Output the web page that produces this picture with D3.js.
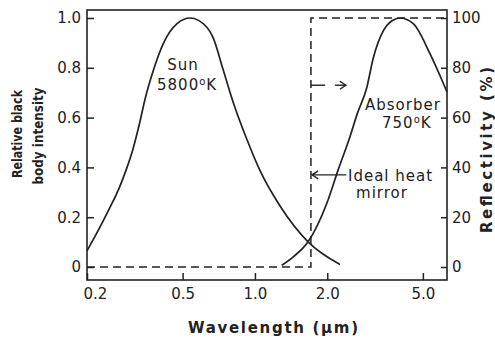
<!DOCTYPE html>
<html>
<head>
<meta charset="utf-8">
<title>Sun and absorber black body spectra</title>
<script src="https://d3js.org/d3.v7.min.js"></script>
<style>
body {margin:0; background:white;}
svg text {font-family:"DejaVu Sans", sans-serif; fill:#222;}
.tick line {stroke:#222; stroke-width:1.5;}
.tick text {font-size:15px;}
.title {font-weight:bold;}
.note {font-size:15px; letter-spacing:1px;}
</style>
</head>
<body>

<svg width="495" height="347"></svg>

<script>
// wavelength (um) and relative intensity
var sunWave = [0.2, 0.225, 0.248, 0.273, 0.291, 0.31, 0.33, 0.349, 0.377, 0.415, 0.474, 0.537,
               0.632, 0.669, 0.736, 0.811, 0.927, 1.05, 1.272, 1.664, 2.26];
var sunIntensity = [0.065, 0.155, 0.235, 0.32, 0.39, 0.47, 0.572, 0.675, 0.787, 0.896, 0.977, 1.0,
                    0.962, 0.922, 0.795, 0.663, 0.511, 0.387, 0.245, 0.101, 0.01];
var absWave = [1.293, 1.44, 1.664, 1.99, 2.22, 2.49, 2.66, 2.92, 3.11, 3.42, 3.72, 4.02,
               4.56, 5.35, 6.08, 6.3];
var absIntensity = [0.007, 0.04, 0.101, 0.255, 0.39, 0.525, 0.613, 0.72, 0.84, 0.948, 0.989, 1.0,
                    0.977, 0.857, 0.738, 0.703];
// ideal heat mirror, reflectivity in %
var mirrorWave = [0.2, 1.71, 1.71, 6.3];
var mirrorReflect = [0, 0, 100, 100];

var xTicks = [0.2, 0.5, 1, 2, 5];
var leftTicks = [0, 0.2, 0.4, 0.6, 0.8, 1.0];
var rightTicks = [0, 20, 40, 60, 80, 100];

var svg = d3.select("svg");
var plotLeft = 87, plotRight = 447, plotTop = 10, plotBottom = 280;
var ink = "#222";

var x = d3.scaleLog().domain([0.2, 6.3]).range([plotLeft, plotRight]);
var y = d3.scaleLinear().domain([0, 1]).range([267, 18]);
var yR = d3.scaleLinear().domain([0, 100]).range([267, 18]);

// frame
svg.append("rect")
  .attr("x", plotLeft).attr("y", plotTop)
  .attr("width", plotRight - plotLeft).attr("height", plotBottom - plotTop)
  .attr("fill", "none").attr("stroke", ink).attr("stroke-width", 1.6);

// axes
svg.append("g")
  .attr("transform", "translate(0," + plotBottom + ")")
  .call(d3.axisBottom(x).tickValues(xTicks).tickFormat(d3.format(".1f")).tickSize(-7).tickPadding(8))
  .call(g => g.select(".domain").remove())
  .call(g => g.selectAll(".tick text").filter(d => d === 0.2).attr("text-anchor", "start").attr("x", -4));

svg.append("g")
  .attr("transform", "translate(" + plotLeft + ",0)")
  .call(d3.axisLeft(y).tickValues(leftTicks)
    .tickFormat(d => d === 0 ? "0" : d3.format(".1f")(d)).tickSize(-7).tickPadding(6))
  .call(g => g.select(".domain").remove());

svg.append("g")
  .attr("transform", "translate(" + plotRight + ",0)")
  .call(d3.axisRight(yR).tickValues(rightTicks).tickSize(-6).tickPadding(5))
  .call(g => g.select(".domain").remove());

// curves
var line = d3.line()
  .x(d => x(d[0]))
  .y(d => y(d[1]))
  .curve(d3.curveMonotoneX);

svg.append("path")
  .datum(d3.zip(sunWave, sunIntensity))
  .attr("d", line)
  .attr("fill", "none").attr("stroke", ink).attr("stroke-width", 1.7);

svg.append("path")
  .datum(d3.zip(absWave, absIntensity))
  .attr("d", line)
  .attr("fill", "none").attr("stroke", ink).attr("stroke-width", 1.7);

var mirrorLine = d3.line()
  .x(d => x(d[0]))
  .y(d => yR(d[1]));

svg.append("path")
  .datum(d3.zip(mirrorWave, mirrorReflect))
  .attr("d", mirrorLine)
  .attr("fill", "none").attr("stroke", ink).attr("stroke-width", 1.5)
  .attr("stroke-dasharray", "8,5");

// small marker and arrows
function arrow(x1, x2, yy, headLeft) {
  svg.append("line")
    .attr("x1", x1).attr("x2", x2).attr("y1", yy).attr("y2", yy)
    .attr("stroke", ink).attr("stroke-width", 1.4);
  var s = headLeft ? 1 : -1;
  svg.append("path")
    .attr("d", "M" + (x2 + 6 * s) + "," + (yy - 4) + "L" + x2 + "," + yy + "L" + (x2 + 6 * s) + "," + (yy + 4))
    .attr("fill", "none").attr("stroke", ink).attr("stroke-width", 1.4);
}
svg.append("line")
  .attr("x1", x(1.71)).attr("x2", x(1.96))
  .attr("y1", yR(73)).attr("y2", yR(73))
  .attr("stroke", ink).attr("stroke-width", 1.4);
arrow(x(2.15), x(2.39), yR(73), false);
arrow(x(2.4), x(1.73), yR(37), true);

// labels
svg.append("text").attr("class", "note").attr("text-anchor", "middle")
  .attr("x", 183).attr("y", 70).text("Sun");
var sunT = svg.append("text").attr("class", "note").attr("x", 157).attr("y", 90);
sunT.append("tspan").text("5800");
sunT.append("tspan").attr("font-size", 10).attr("dy", -5).text("o");
sunT.append("tspan").attr("dy", 5).text("K");

svg.append("text").attr("class", "note").attr("x", 365).attr("y", 110).text("Absorber");
var absT = svg.append("text").attr("class", "note").attr("x", 382).attr("y", 128);
absT.append("tspan").text("750");
absT.append("tspan").attr("font-size", 10).attr("dy", -5).text("o");
absT.append("tspan").attr("dy", 5).text("K");

svg.append("text").attr("class", "note").attr("x", 348).attr("y", 181).text("Ideal heat");
svg.append("text").attr("class", "note").attr("text-anchor", "middle")
  .attr("x", 382).attr("y", 198).text("mirror");

// axis titles
svg.append("text").attr("class", "title").attr("font-size", 14.5)
  .attr("text-anchor", "middle").attr("textLength", 88).attr("lengthAdjust", "spacingAndGlyphs")
  .attr("transform", "translate(22,134) rotate(-90)").text("Relative black");
svg.append("text").attr("class", "title").attr("font-size", 14.5)
  .attr("text-anchor", "middle").attr("textLength", 97).attr("lengthAdjust", "spacingAndGlyphs")
  .attr("transform", "translate(43,136) rotate(-90)").text("body intensity");
svg.append("text").attr("class", "title").attr("font-size", 15)
  .attr("text-anchor", "middle").attr("textLength", 166)
  .attr("transform", "translate(492,150) rotate(-90)").text("Reflectivity (%)");
svg.append("text").attr("class", "title").attr("font-size", 15)
  .attr("text-anchor", "middle").attr("textLength", 170)
  .attr("x", 273).attr("y", 333).text("Wavelength (\u03bcm)");
</script>
</body>
</html>
